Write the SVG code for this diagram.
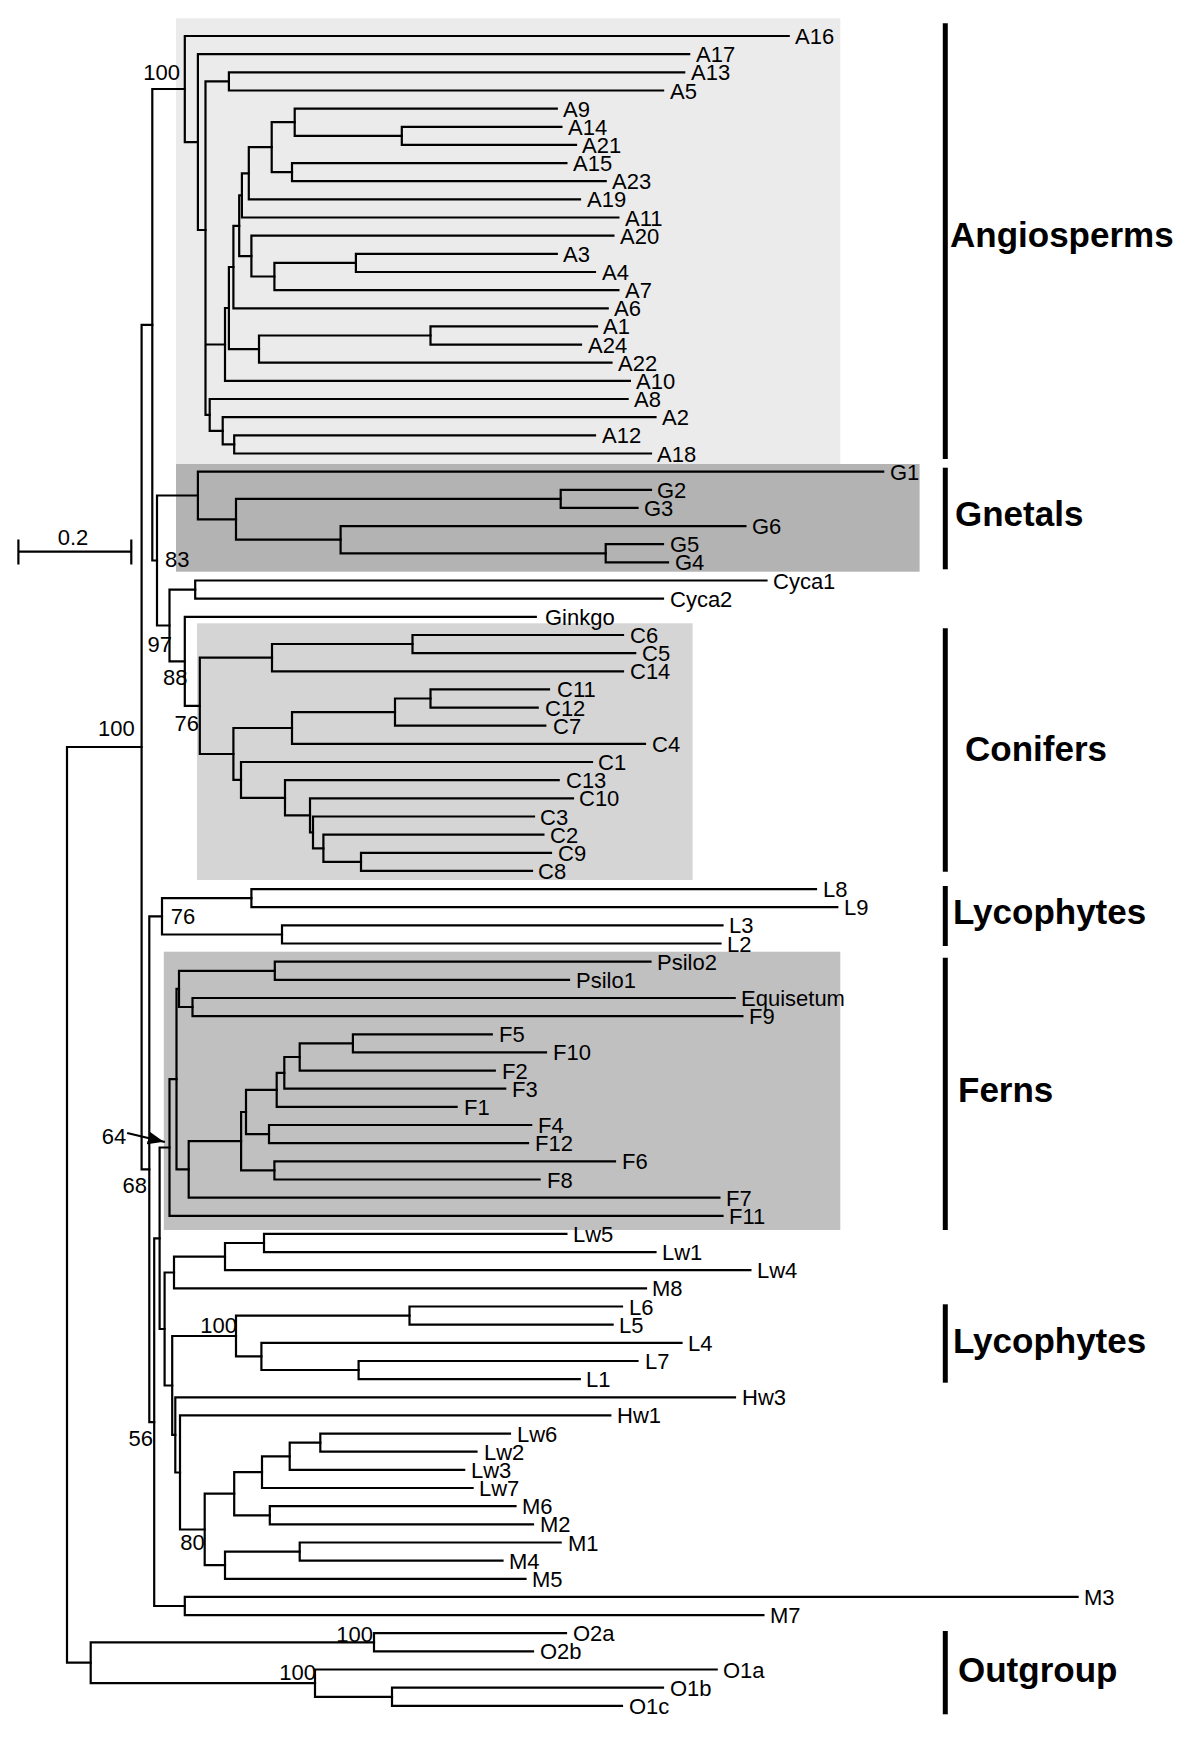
<svg xmlns="http://www.w3.org/2000/svg" width="1200" height="1743" viewBox="0 0 1200 1743">
<style>
.br{fill:none;stroke:#000;stroke-width:2.2;stroke-linecap:square}
.t{font-family:"Liberation Sans",Arial,Helvetica,sans-serif;font-size:22px;fill:#000}
.bs{font-family:"Liberation Sans",Arial,Helvetica,sans-serif;font-size:22px;fill:#000;text-anchor:end}
.cl{font-family:"Liberation Sans",Arial,Helvetica,sans-serif;font-size:35px;font-weight:bold;fill:#000}
.bar{stroke:#000;stroke-width:5}
</style>
<defs>
<marker id="ah" markerUnits="userSpaceOnUse" markerWidth="17" markerHeight="13" refX="16" refY="6.5" orient="auto"><path d="M0,0 L16,6.5 L0,13 z" fill="#000"/></marker>
</defs>
<rect width="1200" height="1743" fill="#fff"/>
<g id="boxes">
<rect x="176" y="18.3" width="664.3" height="445.7" fill="#ebebeb"/>
<rect x="176" y="464" width="743.6" height="107.7" fill="#b3b3b3"/>
<rect x="197" y="623.3" width="495.6" height="256.7" fill="#d5d5d5"/>
<rect x="163.8" y="951.7" width="676.5" height="278.3" fill="#c0c0c0"/>
</g>
<g id="connectors" class="br">
<path d="M401.8,126.8V144.9 M401.8,126.8H561.4 M401.8,144.9H576"/>
<path d="M294.7,108.6V135.9 M294.7,108.6H556.8 M294.7,135.9H401.8"/>
<path d="M292,163.1V181.2 M292,163.1H566.4 M292,181.2H605.7"/>
<path d="M271.7,122.2V172.2 M271.7,122.2H294.7 M271.7,172.2H292"/>
<path d="M248.8,147.2V199.4 M248.8,147.2H271.7 M248.8,199.4H580"/>
<path d="M241.9,173.3V217.5 M241.9,173.3H248.8 M241.9,217.5H618.4"/>
<path d="M355.9,253.8V272 M355.9,253.8H556.8 M355.9,272H595"/>
<path d="M274.4,262.9V290.1 M274.4,262.9H355.9 M274.4,290.1H618.4"/>
<path d="M251.4,235.7V276.5 M251.4,235.7H613.4 M251.4,276.5H274.4"/>
<path d="M239.2,195.4V256.1 M239.2,195.4H241.9 M239.2,256.1H251.4"/>
<path d="M233.4,225.8V308.3 M233.4,225.8H239.2 M233.4,308.3H607.7"/>
<path d="M430.5,326.4V344.6 M430.5,326.4H597 M430.5,344.6H581"/>
<path d="M259,335.5V362.7 M259,335.5H430.5 M259,362.7H611.5"/>
<path d="M228.9,267V349.1 M228.9,267H233.4 M228.9,349.1H259"/>
<path d="M225,308V380.9 M225,308H228.9 M225,380.9H629.9"/>
<path d="M234.2,435.3V453.5 M234.2,435.3H595 M234.2,453.5H651"/>
<path d="M222.7,417.2V444.4 M222.7,417.2H655.5 M222.7,444.4H234.2"/>
<path d="M209.7,399V430.8 M209.7,399H627.6 M209.7,430.8H222.7"/>
<path d="M228.9,72.3V90.5 M228.9,72.3H684.2 M228.9,90.5H663.1"/>
<path d="M205.5,81.4V414.9 M205.5,81.4H228.9 M205.5,344.5H225 M205.5,414.9H209.7"/>
<path d="M197.9,54.2V230 M197.9,54.2H689.2 M197.9,230H205.5"/>
<path d="M184.8,36V142.1 M184.8,36H788.7 M184.8,142.1H197.9"/>
<path d="M560.7,489.8V507.9 M560.7,489.8H651 M560.7,507.9H637.5"/>
<path d="M605.7,544.2V562.4 M605.7,544.2H663 M605.7,562.4H668"/>
<path d="M340.6,526.1V553.3 M340.6,526.1H745.4 M340.6,553.3H605.7"/>
<path d="M236,498.9V539.7 M236,498.9H560.7 M236,539.7H340.6"/>
<path d="M197.9,471.6V519.3 M197.9,471.6H883.2 M197.9,519.3H236"/>
<path d="M195.2,580.5V598.7 M195.2,580.5H766.5 M195.2,598.7H663"/>
<path d="M412.5,635V653.1 M412.5,635H623 M412.5,653.1H635.2"/>
<path d="M272,644V671.3 M272,644H412.5 M272,671.3H623"/>
<path d="M430.5,689.4V707.6 M430.5,689.4H549 M430.5,707.6H537.7"/>
<path d="M395,698.5V725.7 M395,698.5H430.5 M395,725.7H545.3"/>
<path d="M292,712.1V743.9 M292,712.1H395 M292,743.9H645"/>
<path d="M361,852.8V870.9 M361,852.8H551 M361,870.9H532"/>
<path d="M323.4,834.6V861.9 M323.4,834.6H543.4 M323.4,861.9H361"/>
<path d="M313,816.5V848.3 M313,816.5H534 M313,848.3H323.4"/>
<path d="M310,798.3V832.4 M310,798.3H573 M310,832.4H313"/>
<path d="M285,780.2V815.4 M285,780.2H558.7 M285,815.4H310"/>
<path d="M241,762V797.8 M241,762H592 M241,797.8H285"/>
<path d="M233.4,728V779.9 M233.4,728H292 M233.4,779.9H241"/>
<path d="M199.8,657.7V754 M199.8,657.7H272 M199.8,754H233.4"/>
<path d="M184.8,616.8V705.9 M184.8,616.8H535.8 M184.8,705.9H199.8"/>
<path d="M169.5,589.6V661.4 M169.5,589.6H195.2 M169.5,661.4H184.8"/>
<path d="M157,495.5V625.5 M157,495.5H197.9 M157,625.5H169.5"/>
<path d="M152.3,89V560.5 M152.3,89H184.8 M152.3,560.5H157"/>
<path d="M251.4,889.1V907.2 M251.4,889.1H816 M251.4,907.2H837.3"/>
<path d="M282,925.4V943.5 M282,925.4H722.5 M282,943.5H720.5"/>
<path d="M162,898.2V934.5 M162,898.2H251.4 M162,934.5H282"/>
<path d="M274.8,961.7V979.8 M274.8,961.7H650.5 M274.8,979.8H569"/>
<path d="M192.5,998V1016.1 M192.5,998H734.7 M192.5,1016.1H742.4"/>
<path d="M179,970.8V1007 M179,970.8H274.8 M179,1007H192.5"/>
<path d="M352.9,1034.3V1052.4 M352.9,1034.3H491.8 M352.9,1052.4H546"/>
<path d="M299.7,1043.3V1070.6 M299.7,1043.3H352.9 M299.7,1070.6H494.8"/>
<path d="M284.3,1057V1088.7 M284.3,1057H299.7 M284.3,1088.7H505.2"/>
<path d="M276.7,1072.8V1106.9 M276.7,1072.8H284.3 M276.7,1106.9H456.6"/>
<path d="M269,1125V1143.2 M269,1125H531.2 M269,1143.2H528"/>
<path d="M246,1089.9V1134.1 M246,1089.9H276.7 M246,1134.1H269"/>
<path d="M274.4,1161.3V1179.5 M274.4,1161.3H615 M274.4,1179.5H539.6"/>
<path d="M241.1,1112V1170.4 M241.1,1112H246 M241.1,1170.4H274.4"/>
<path d="M188.7,1141.2V1197.6 M188.7,1141.2H241.1 M188.7,1197.6H719.4"/>
<path d="M176.5,988.9V1169.4 M176.5,988.9H179 M176.5,1169.4H188.7"/>
<path d="M169.5,1079.2V1215.8 M169.5,1079.2H176.5 M169.5,1215.8H722.5"/>
<path d="M264,1233.9V1252.1 M264,1233.9H566.4 M264,1252.1H655.5"/>
<path d="M225,1243V1270.2 M225,1243H264 M225,1270.2H750.4"/>
<path d="M174,1256.6V1288.4 M174,1256.6H225 M174,1288.4H646"/>
<path d="M409.5,1306.5V1324.7 M409.5,1306.5H622 M409.5,1324.7H612.6"/>
<path d="M358.6,1361V1379.1 M358.6,1361H637.5 M358.6,1379.1H579.8"/>
<path d="M261.4,1342.8V1370 M261.4,1342.8H681.5 M261.4,1370H358.6"/>
<path d="M236,1315.6V1356.4 M236,1315.6H409.5 M236,1356.4H261.4"/>
<path d="M320.3,1433.6V1451.7 M320.3,1433.6H510 M320.3,1451.7H476.5"/>
<path d="M289.7,1442.7V1469.9 M289.7,1442.7H320.3 M289.7,1469.9H464.2"/>
<path d="M262,1456.3V1488 M262,1456.3H289.7 M262,1488H472.6"/>
<path d="M269.8,1506.2V1524.3 M269.8,1506.2H515.5 M269.8,1524.3H533"/>
<path d="M234.2,1472.2V1515.3 M234.2,1472.2H262 M234.2,1515.3H269.8"/>
<path d="M299.7,1542.5V1560.6 M299.7,1542.5H560.7 M299.7,1560.6H502.5"/>
<path d="M225,1551.6V1578.8 M225,1551.6H299.7 M225,1578.8H525.5"/>
<path d="M204.7,1493.7V1565.2 M204.7,1493.7H234.2 M204.7,1565.2H225"/>
<path d="M180,1415.4V1529.5 M180,1415.4H610.3 M180,1529.5H204.7"/>
<path d="M175.3,1397.3V1472.5 M175.3,1397.3H735 M175.3,1472.5H180"/>
<path d="M172.2,1336V1434.9 M172.2,1336H236 M172.2,1434.9H175.3"/>
<path d="M164.6,1272.5V1385.5 M164.6,1272.5H174 M164.6,1385.5H172.2"/>
<path d="M159.6,1147.5V1329 M159.6,1147.5H169.5 M159.6,1329H164.6"/>
<path d="M184.8,1596.9V1615.1 M184.8,1596.9H1077.6 M184.8,1615.1H763.4"/>
<path d="M154.2,1238.3V1606 M154.2,1238.3H159.6 M154.2,1606H184.8"/>
<path d="M149.3,916.3V1422.2 M149.3,916.3H162 M149.3,1422.2H154.2"/>
<path d="M141.6,324.8V1169.3 M141.6,324.8H152.3 M141.6,1169.3H149.3"/>
<path d="M374,1633.2V1651.4 M374,1633.2H566 M374,1651.4H533"/>
<path d="M392,1687.7V1705.8 M392,1687.7H663 M392,1705.8H622"/>
<path d="M315,1669.5V1696.8 M315,1669.5H716.7 M315,1696.8H392"/>
<path d="M90.7,1642.3V1683.2 M90.7,1642.3H374 M90.7,1683.2H315"/>
<path d="M67,747V1662.7 M67,747H141.6 M67,1662.7H90.7"/>
<line x1="128.2" y1="1133.3" x2="163.8" y2="1141.7" stroke-width="2.2" marker-end="url(#ah)"/>
</g>
<g id="scale">
<path class="br" d="M18.4,551.7H131.3 M18.4,540.7V563.3 M131.3,540.7V563.3"/>
<text class="t" x="73" y="545" text-anchor="middle">0.2</text>
</g>
<g id="support">
<text class="bs" x="180" y="80">100</text>
<text class="bs" x="189.4" y="566.7">83</text>
<text class="bs" x="172" y="651.7">97</text>
<text class="bs" x="187.5" y="685">88</text>
<text class="bs" x="199" y="731">76</text>
<text class="bs" x="134.7" y="736">100</text>
<text class="bs" x="195.2" y="924.3">76</text>
<text class="bs" x="126.3" y="1144">64</text>
<text class="bs" x="147" y="1192.7">68</text>
<text class="bs" x="237" y="1333.3">100</text>
<text class="bs" x="153" y="1446">56</text>
<text class="bs" x="204.7" y="1550">80</text>
<text class="bs" x="373" y="1642.3">100</text>
<text class="bs" x="316" y="1680">100</text>
</g>
<g id="leaves" class="t">
<g id="A16"><text x="795" y="44">A16</text></g>
<g id="A17"><text x="696" y="62.2">A17</text></g>
<g id="A13"><text x="691" y="80.3">A13</text></g>
<g id="A5"><text x="670" y="98.5">A5</text></g>
<g id="A9"><text x="563" y="116.6">A9</text></g>
<g id="A14"><text x="568" y="134.8">A14</text></g>
<g id="A21"><text x="582" y="152.9">A21</text></g>
<g id="A15"><text x="573" y="171.1">A15</text></g>
<g id="A23"><text x="612" y="189.2">A23</text></g>
<g id="A19"><text x="587" y="207.4">A19</text></g>
<g id="A11"><text x="625" y="225.5">A11</text></g>
<g id="A20"><text x="620" y="243.7">A20</text></g>
<g id="A3"><text x="563" y="261.8">A3</text></g>
<g id="A4"><text x="602" y="280">A4</text></g>
<g id="A7"><text x="625" y="298.1">A7</text></g>
<g id="A6"><text x="614" y="316.3">A6</text></g>
<g id="A1"><text x="603" y="334.4">A1</text></g>
<g id="A24"><text x="588" y="352.6">A24</text></g>
<g id="A22"><text x="618" y="370.7">A22</text></g>
<g id="A10"><text x="636" y="388.9">A10</text></g>
<g id="A8"><text x="634" y="407">A8</text></g>
<g id="A2"><text x="662" y="425.2">A2</text></g>
<g id="A12"><text x="602" y="443.3">A12</text></g>
<g id="A18"><text x="657" y="461.5">A18</text></g>
<g id="G1"><text x="890" y="479.6">G1</text></g>
<g id="G2"><text x="657" y="497.8">G2</text></g>
<g id="G3"><text x="644" y="515.9">G3</text></g>
<g id="G6"><text x="752" y="534.1">G6</text></g>
<g id="G5"><text x="670" y="552.2">G5</text></g>
<g id="G4"><text x="675" y="570.4">G4</text></g>
<g id="Cyca1"><text x="773" y="588.5">Cyca1</text></g>
<g id="Cyca2"><text x="670" y="606.7">Cyca2</text></g>
<g id="Ginkgo"><text x="545" y="624.8">Ginkgo</text></g>
<g id="C6"><text x="630" y="643">C6</text></g>
<g id="C5"><text x="642" y="661.1">C5</text></g>
<g id="C14"><text x="630" y="679.3">C14</text></g>
<g id="C11"><text x="557" y="697.4">C11</text></g>
<g id="C12"><text x="545" y="715.6">C12</text></g>
<g id="C7"><text x="553" y="733.7">C7</text></g>
<g id="C4"><text x="652" y="751.9">C4</text></g>
<g id="C1"><text x="598" y="770">C1</text></g>
<g id="C13"><text x="566" y="788.2">C13</text></g>
<g id="C10"><text x="579" y="806.3">C10</text></g>
<g id="C3"><text x="540" y="824.5">C3</text></g>
<g id="C2"><text x="550" y="842.6">C2</text></g>
<g id="C9"><text x="558" y="860.8">C9</text></g>
<g id="C8"><text x="538" y="878.9">C8</text></g>
<g id="L8"><text x="823" y="897.1">L8</text></g>
<g id="L9"><text x="844" y="915.2">L9</text></g>
<g id="L3"><text x="729" y="933.4">L3</text></g>
<g id="L2"><text x="727" y="951.5">L2</text></g>
<g id="Psilo2"><text x="657" y="969.7">Psilo2</text></g>
<g id="Psilo1"><text x="576" y="987.8">Psilo1</text></g>
<g id="Equisetum"><text x="741" y="1006">Equisetum</text></g>
<g id="F9"><text x="749" y="1024.1">F9</text></g>
<g id="F5"><text x="499" y="1042.3">F5</text></g>
<g id="F10"><text x="553" y="1060.4">F10</text></g>
<g id="F2"><text x="502" y="1078.6">F2</text></g>
<g id="F3"><text x="512" y="1096.7">F3</text></g>
<g id="F1"><text x="464" y="1114.9">F1</text></g>
<g id="F4"><text x="538" y="1133">F4</text></g>
<g id="F12"><text x="535" y="1151.2">F12</text></g>
<g id="F6"><text x="622" y="1169.3">F6</text></g>
<g id="F8"><text x="547" y="1187.5">F8</text></g>
<g id="F7"><text x="726" y="1205.6">F7</text></g>
<g id="F11"><text x="729" y="1223.8">F11</text></g>
<g id="Lw5"><text x="573" y="1241.9">Lw5</text></g>
<g id="Lw1"><text x="662" y="1260.1">Lw1</text></g>
<g id="Lw4"><text x="757" y="1278.2">Lw4</text></g>
<g id="M8"><text x="652" y="1296.4">M8</text></g>
<g id="L6"><text x="629" y="1314.5">L6</text></g>
<g id="L5"><text x="619" y="1332.7">L5</text></g>
<g id="L4"><text x="688" y="1350.8">L4</text></g>
<g id="L7"><text x="645" y="1369">L7</text></g>
<g id="L1"><text x="586" y="1387.1">L1</text></g>
<g id="Hw3"><text x="742" y="1405.3">Hw3</text></g>
<g id="Hw1"><text x="617" y="1423.4">Hw1</text></g>
<g id="Lw6"><text x="517" y="1441.6">Lw6</text></g>
<g id="Lw2"><text x="484" y="1459.7">Lw2</text></g>
<g id="Lw3"><text x="471" y="1477.9">Lw3</text></g>
<g id="Lw7"><text x="479" y="1496">Lw7</text></g>
<g id="M6"><text x="522" y="1514.2">M6</text></g>
<g id="M2"><text x="540" y="1532.3">M2</text></g>
<g id="M1"><text x="568" y="1550.5">M1</text></g>
<g id="M4"><text x="509" y="1568.6">M4</text></g>
<g id="M5"><text x="532" y="1586.8">M5</text></g>
<g id="M3"><text x="1084" y="1604.9">M3</text></g>
<g id="M7"><text x="770" y="1623.1">M7</text></g>
<g id="O2a"><text x="573" y="1641.2">O2a</text></g>
<g id="O2b"><text x="540" y="1659.4">O2b</text></g>
<g id="O1a"><text x="723" y="1677.5">O1a</text></g>
<g id="O1b"><text x="670" y="1695.7">O1b</text></g>
<g id="O1c"><text x="629" y="1713.8">O1c</text></g>
</g>
<g id="clade-angiosperms"><line class="bar" x1="945.3" y1="23.3" x2="945.3" y2="459"/><text class="cl" x="950" y="247">Angiosperms</text></g>
<g id="clade-gnetals"><line class="bar" x1="945.3" y1="467.7" x2="945.3" y2="569.3"/><text class="cl" x="955" y="526">Gnetals</text></g>
<g id="clade-conifers"><line class="bar" x1="945.3" y1="628.3" x2="945.3" y2="871.7"/><text class="cl" x="965" y="761">Conifers</text></g>
<g id="clade-lycophytes1"><line class="bar" x1="945.3" y1="886" x2="945.3" y2="946"/><text class="cl" x="953" y="924">Lycophytes</text></g>
<g id="clade-ferns"><line class="bar" x1="945.3" y1="957.7" x2="945.3" y2="1230"/><text class="cl" x="958" y="1102">Ferns</text></g>
<g id="clade-lycophytes2"><line class="bar" x1="945.3" y1="1304.3" x2="945.3" y2="1382.7"/><text class="cl" x="953" y="1353">Lycophytes</text></g>
<g id="clade-outgroup"><line class="bar" x1="945.3" y1="1631" x2="945.3" y2="1714.3"/><text class="cl" x="958" y="1682">Outgroup</text></g>
</svg>
